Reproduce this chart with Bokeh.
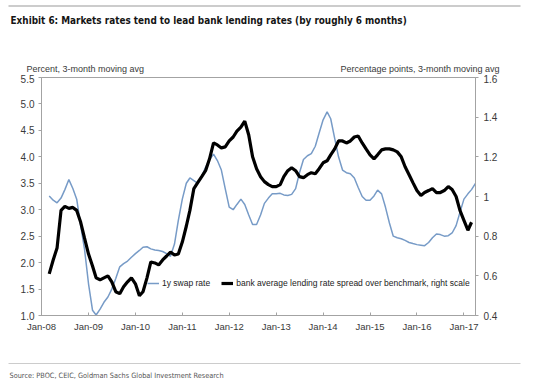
from bokeh.plotting import figure
from bokeh.layouts import column
from bokeh.models import (Range1d, LinearAxis, FixedTicker, DatetimeTickFormatter,
                          Label, Legend, LegendItem)
from bokeh.embed import file_html
from bokeh.resources import INLINE
import pandas as pd

# ---------------- data ----------------
swap_start = "2008-03-01"   # monthly, 1y swap rate, % (left scale)
swap_rate = [3.26, 3.18, 3.13, 3.22, 3.38, 3.57, 3.40, 3.20, 2.70, 2.25,
             1.60, 1.10, 1.01, 1.12, 1.25, 1.35, 1.50, 1.70, 1.92, 1.98,
             2.03, 2.10, 2.17, 2.23, 2.29, 2.30, 2.26, 2.24, 2.23, 2.21,
             2.17, 2.12, 2.35, 2.80, 3.20, 3.50, 3.60, 3.55, 3.50, 3.63,
             3.80, 3.95, 4.05, 3.93, 3.75, 3.40, 3.05, 3.00, 3.10, 3.20,
             3.10, 2.90, 2.72, 2.72, 2.90, 3.12, 3.22, 3.30, 3.30, 3.31,
             3.28, 3.27, 3.29, 3.40, 3.70, 3.95, 4.02, 4.06, 4.20, 4.45,
             4.70, 4.85, 4.72, 4.35, 4.00, 3.75, 3.70, 3.68, 3.60, 3.42,
             3.25, 3.18, 3.18, 3.26, 3.37, 3.30, 3.05, 2.75, 2.50, 2.47,
             2.45, 2.42, 2.38, 2.36, 2.34, 2.33, 2.32, 2.38, 2.47, 2.54,
             2.53, 2.50, 2.51, 2.56, 2.70, 2.95, 3.20, 3.30, 3.38, 3.50]

spread_start = "2008-03-01"  # monthly, lending rate spread, pp (right scale)
spread = [0.61, 0.68, 0.74, 0.93, 0.95, 0.94, 0.945, 0.93, 0.87, 0.79,
          0.71, 0.65, 0.59, 0.58, 0.59, 0.60, 0.57, 0.52, 0.51, 0.545,
          0.57, 0.59, 0.56, 0.50, 0.52, 0.59, 0.67, 0.665, 0.655, 0.68,
          0.70, 0.72, 0.705, 0.71, 0.77, 0.85, 0.93, 1.04, 1.07, 1.10,
          1.13, 1.19, 1.27, 1.26, 1.245, 1.25, 1.28, 1.30, 1.33, 1.35,
          1.38, 1.31, 1.20, 1.14, 1.10, 1.075, 1.06, 1.05, 1.05, 1.06,
          1.10, 1.13, 1.145, 1.13, 1.10, 1.095, 1.11, 1.12, 1.115, 1.14,
          1.17, 1.18, 1.21, 1.24, 1.28, 1.28, 1.27, 1.28, 1.30, 1.305,
          1.27, 1.24, 1.21, 1.19, 1.21, 1.235, 1.24, 1.24, 1.235, 1.225,
          1.20, 1.15, 1.11, 1.07, 1.03, 1.005, 1.02, 1.03, 1.04, 1.02,
          1.02, 1.03, 1.05, 1.035, 1.00, 0.93, 0.88, 0.83, 0.87]

left_ticks = [1.0, 1.5, 2.0, 2.5, 3.0, 3.5, 4.0, 4.5, 5.0, 5.5]
right_ticks = [0.4, 0.6, 0.8, 1.0, 1.2, 1.4, 1.6]
right_tick_labels = ["0.4", "0.6", "0.8", "1", "1.2", "1.4", "1.6"]
year_ticks = ["2008-01-01", "2009-01-01", "2010-01-01", "2011-01-01", "2012-01-01",
              "2013-01-01", "2014-01-01", "2015-01-01", "2016-01-01", "2017-01-01"]

title_text = "Exhibit 6: Markets rates tend to lead bank lending rates (by roughly 6 months)"
left_title = "Percent, 3-month moving avg"
right_title = "Percentage points, 3-month moving avg"
source_text = "Source: PBOC, CEIC, Goldman Sachs Global Investment Research"
swap_label = "1y swap rate"
spread_label = "bank average lending rate spread over benchmark, right scale"

# ---------------- style ----------------
SANS = "Liberation Sans, Arial, sans-serif"
COND = "DejaVu Sans Condensed, Liberation Sans, sans-serif"
AXIS_GRAY = "#a3a3a3"
RULE_GRAY = "#cccccc"
TXT = "#3a3a3a"
W = 550


def blank(height, y_top):
    f = figure(width=W, height=height, output_backend="svg", toolbar_location=None,
               x_axis_location=None, y_axis_location=None,
               x_range=Range1d(0, W), y_range=Range1d(y_top + height, y_top),
               min_border=0, min_border_left=0, min_border_right=0,
               min_border_top=0, min_border_bottom=0)
    f.grid.visible = False
    f.outline_line_color = None
    f.border_fill_color = "white"
    f.background_fill_color = "white"
    try:
        f.frame_align = False
    except Exception:
        pass
    return f


def lab(f, x, y, text, font, size, align="left", style="normal", color=TXT):
    f.add_layout(Label(x=x, y=y, text=text, text_font=font, text_font_size=size,
                       text_font_style=style, text_align=align,
                       text_baseline="middle", text_color=color))


# ---------------- header ----------------
HEAD_H = 74
head = blank(HEAD_H, 0)
head.line([8, 520], [5.5, 5.5], line_color=RULE_GRAY, line_width=2)
lab(head, 10, 19.5, title_text, COND, "9.9px", style="bold", color="#151515")
lab(head, 26, 68, left_title, SANS, "9px")
lab(head, 499, 68, right_title, SANS, "9px", align="right")

# ---------------- main chart ----------------
swap_dates = pd.date_range(swap_start, periods=len(swap_rate), freq="MS")
spread_dates = pd.date_range(spread_start, periods=len(spread), freq="MS")

MAIN_H = 266
p = figure(width=W, height=MAIN_H, x_axis_type="datetime",
           output_backend="svg", toolbar_location=None,
           x_range=Range1d(pd.Timestamp("2008-01-01"), swap_dates[-1]),
           y_range=Range1d(1.0, 5.5),
           min_border_left=41, min_border_right=75,
           min_border_top=3, min_border_bottom=25)
p.extra_y_ranges = {"spread": Range1d(0.4, 1.6)}

p.grid.visible = False
p.outline_line_color = AXIS_GRAY
p.outline_line_width = 1
p.background_fill_color = "white"
p.border_fill_color = "white"

xa = p.xaxis[0]
xa.ticker = FixedTicker(ticks=[pd.Timestamp(d).value // 10**6 for d in year_ticks])
xa.formatter = DatetimeTickFormatter(years="%b-%y", months="%b-%y", days="%b-%y",
                                     hours="%b-%y", minutes="%b-%y")
xa.axis_line_color = AXIS_GRAY
xa.major_tick_line_color = AXIS_GRAY
xa.major_tick_in = 3
xa.major_tick_out = 0
xa.minor_tick_line_color = None
xa.major_label_text_font = SANS
xa.major_label_text_font_size = "9.5px"
xa.major_label_text_color = TXT
xa.major_label_standoff = 5

ya = p.yaxis[0]
ya.ticker = FixedTicker(ticks=left_ticks)
ya.major_label_overrides = {t: f"{t:.1f}" for t in left_ticks}
ya.axis_line_color = AXIS_GRAY
ya.major_tick_line_color = AXIS_GRAY
ya.major_tick_in = 0
ya.major_tick_out = 3
ya.minor_tick_line_color = None
ya.major_label_text_font = SANS
ya.major_label_text_font_size = "10px"
ya.major_label_text_color = TXT
ya.major_label_standoff = 4

ra = LinearAxis(y_range_name="spread", ticker=FixedTicker(ticks=right_ticks))
ra.major_label_overrides = dict(zip(right_ticks, right_tick_labels))
ra.axis_line_color = AXIS_GRAY
ra.major_tick_line_color = AXIS_GRAY
ra.major_tick_in = 0
ra.major_tick_out = 3
ra.minor_tick_line_color = None
ra.major_label_text_font = SANS
ra.major_label_text_font_size = "10px"
ra.major_label_text_color = TXT
ra.major_label_standoff = 5
p.add_layout(ra, "right")

r_swap = p.line(swap_dates, swap_rate, line_color="#779bc7", line_width=1.5)
r_spread = p.line(spread_dates, spread, y_range_name="spread",
                  line_color="black", line_width=3.2)

legend = Legend(items=[LegendItem(label=swap_label, renderers=[r_swap]),
                       LegendItem(label=spread_label, renderers=[r_spread])],
                orientation="horizontal", location=(106, 27),
                glyph_width=12, glyph_height=10, label_standoff=3, spacing=11,
                padding=0, margin=0, border_line_color=None,
                background_fill_alpha=0, label_height=10,
                label_text_font=SANS, label_text_font_size="8.5px",
                label_text_color="#222222")
p.add_layout(legend)

# ---------------- footer ----------------
FOOT_H = 387 - HEAD_H - MAIN_H
foot = blank(FOOT_H, HEAD_H + MAIN_H)
foot.line([8, 520], [363, 363], line_color=RULE_GRAY, line_width=1)
lab(foot, 9, 375, source_text, COND, "7.3px", color="#555555")

layout = column(head, p, foot, spacing=0)
open("out.html", "w").write(file_html(layout, INLINE))
